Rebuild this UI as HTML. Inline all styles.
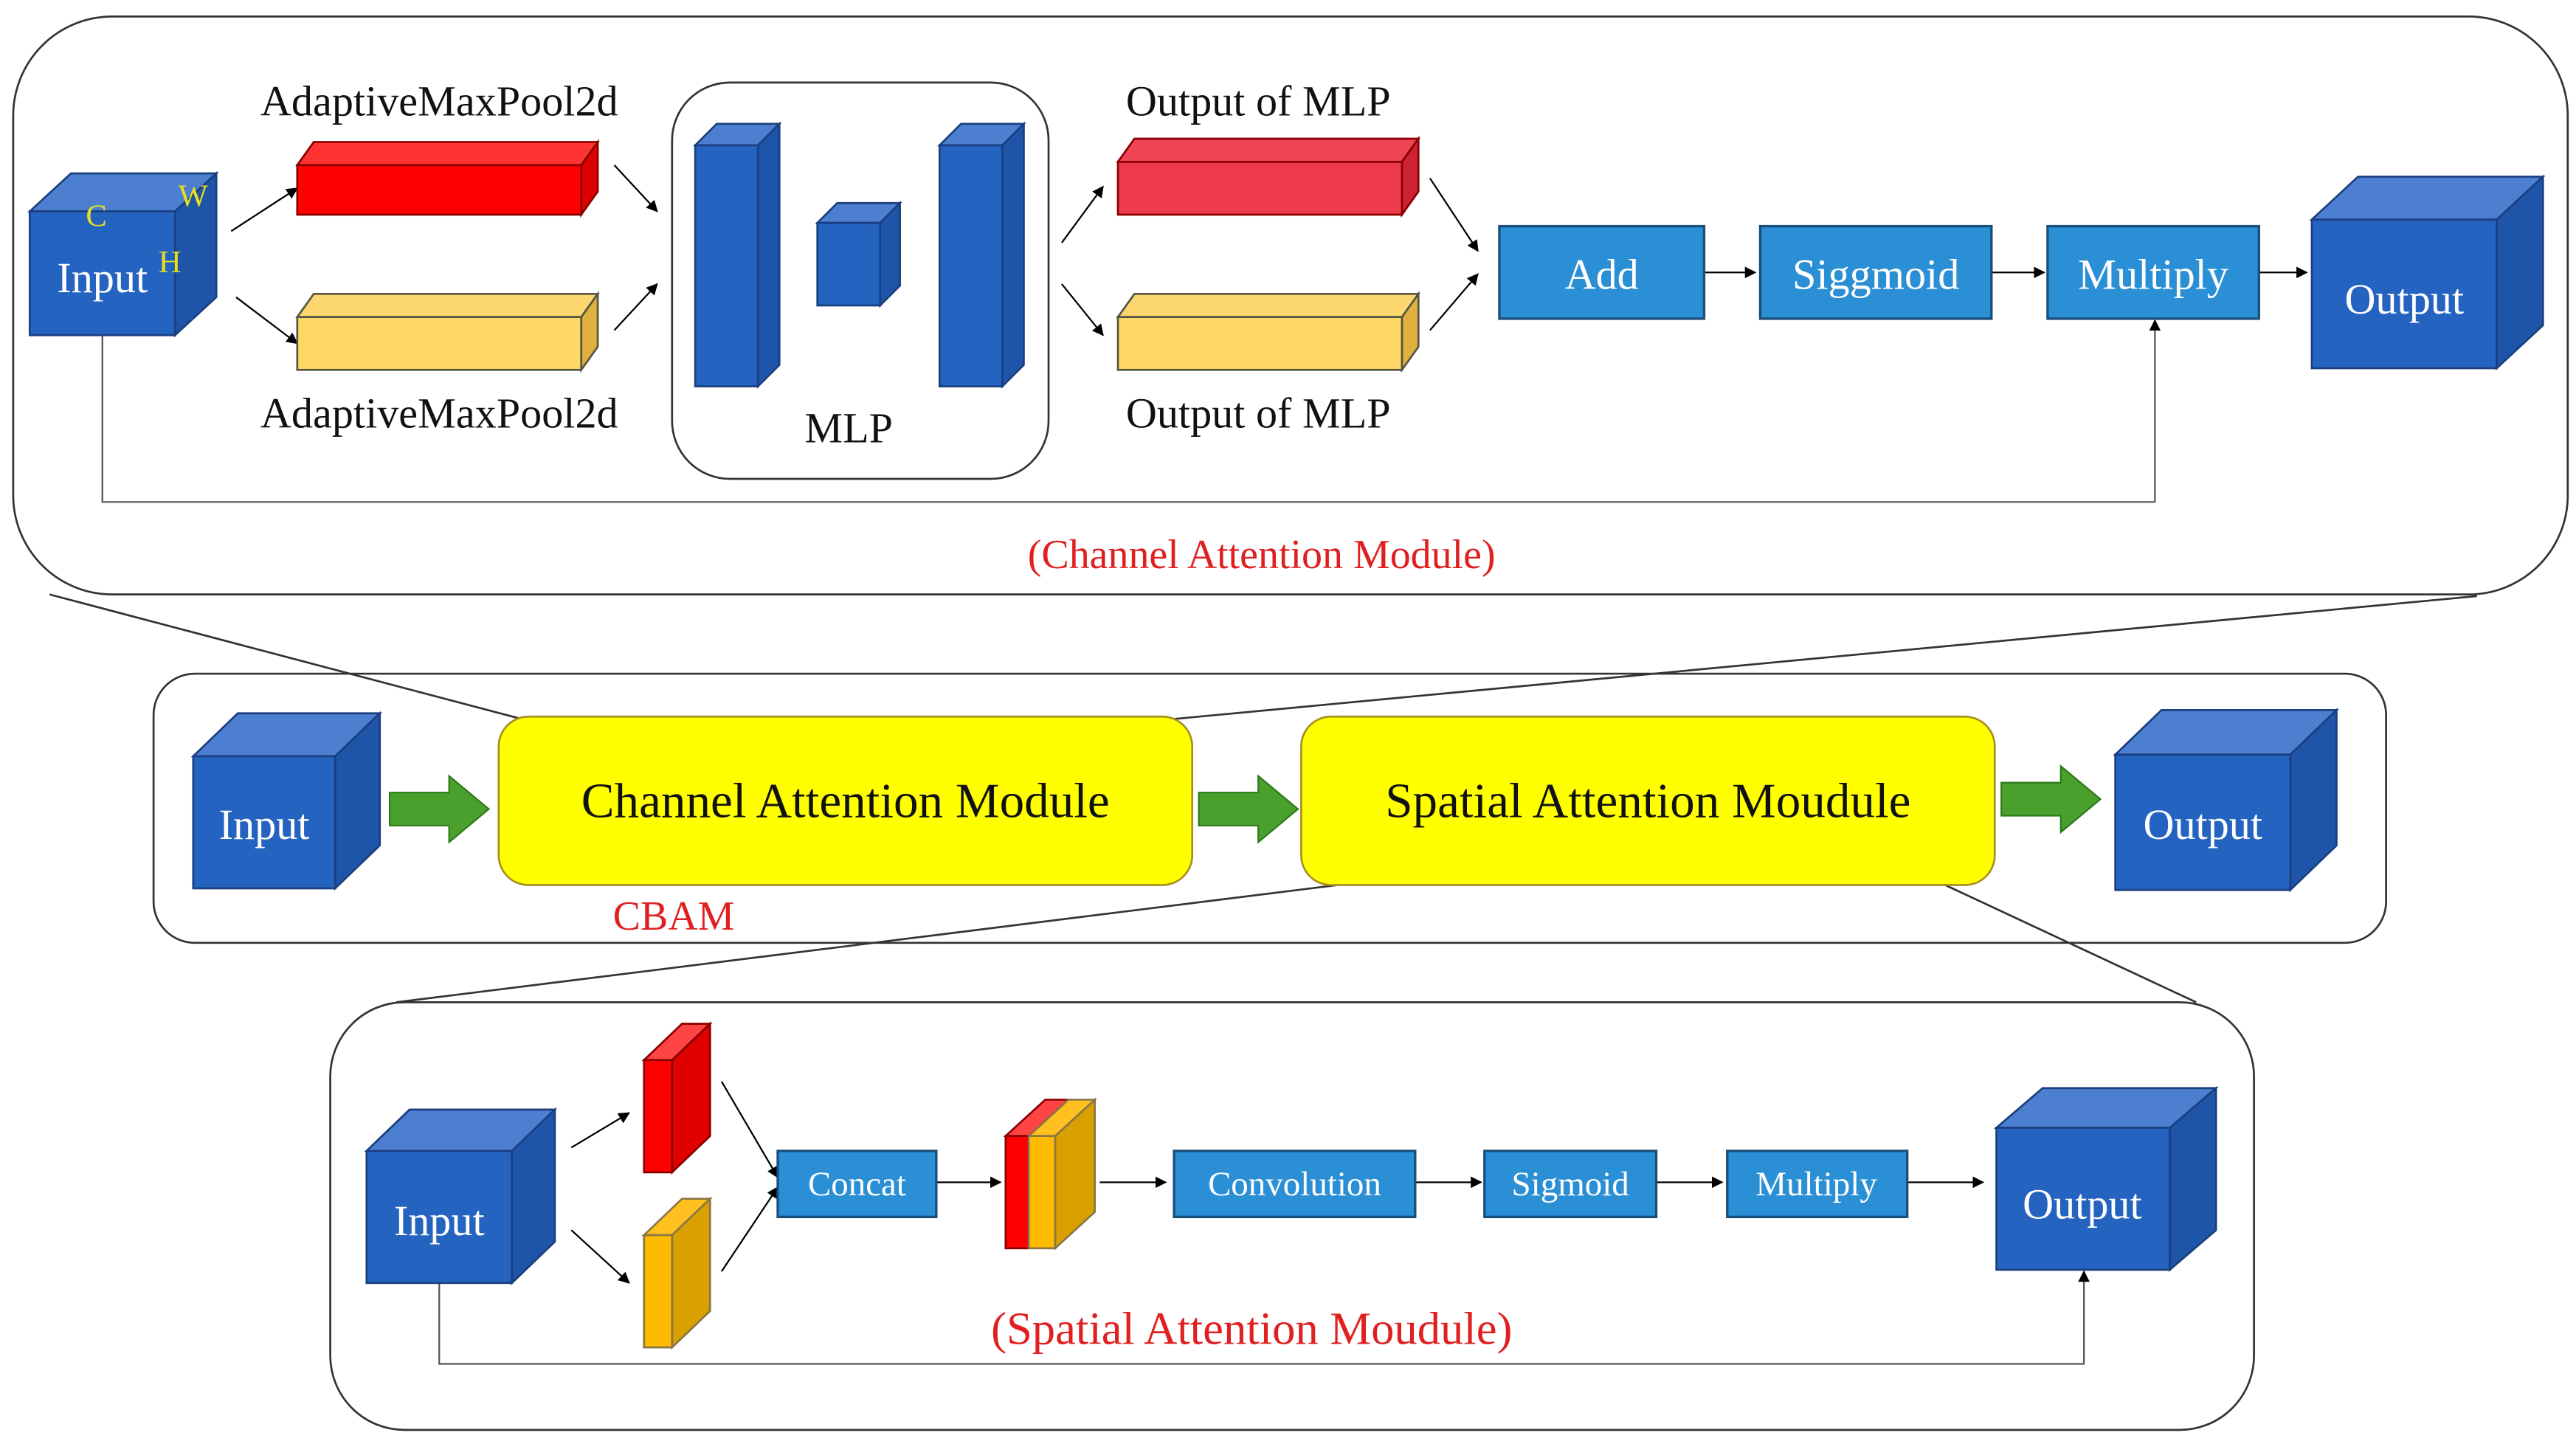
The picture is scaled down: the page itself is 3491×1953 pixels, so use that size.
<!DOCTYPE html>
<html><head><meta charset="utf-8"><style>html,body{margin:0;padding:0;background:#fff}svg{display:block}</style></head>
<body>
<svg width="3491" height="1953" viewBox="0 0 1560 872.7" preserveAspectRatio="none" xmlns="http://www.w3.org/2000/svg" font-family="Liberation Serif, serif">
<defs>
<marker id="a" viewBox="0 0 10 10" refX="9" refY="5" markerWidth="7" markerHeight="7" orient="auto-start-reverse" markerUnits="userSpaceOnUse"><path d="M0,0L10,5L0,10z" fill="#000"/></marker>
</defs>
<g fill="none" stroke="#333" stroke-width="1.2">
<rect x="8" y="10" width="1547" height="350" rx="60"/>
<rect x="407" y="50" width="228" height="240" rx="35"/>
<rect x="93" y="408" width="1352" height="163" rx="25"/>
<rect x="200" y="607" width="1165" height="259" rx="45"/>
<line x1="30" y1="360" x2="318" y2="436"/>
<line x1="1500" y1="361" x2="705" y2="436"/>
<line x1="810" y1="536" x2="240" y2="607"/>
<line x1="1178" y1="536" x2="1330" y2="607"/>
</g>
<g stroke="#000" stroke-width="1" fill="none" marker-end="url(#a)">
<line x1="140" y1="140" x2="180" y2="114"/><line x1="143" y1="180" x2="180" y2="208"/>
<line x1="372" y1="100" x2="398" y2="128"/><line x1="372" y1="200" x2="398" y2="172"/>
<line x1="643" y1="147" x2="668" y2="113"/><line x1="643" y1="172" x2="668" y2="203"/>
<line x1="866" y1="108" x2="895" y2="152"/><line x1="866" y1="200" x2="895" y2="166"/>
<line x1="1032" y1="165" x2="1063" y2="165"/><line x1="1206" y1="165" x2="1238" y2="165"/><line x1="1368" y1="165" x2="1397" y2="165"/>
<polyline points="62,203 62,304 1305,304 1305,194" stroke="#555"/>
<line x1="346" y1="695" x2="381" y2="674"/><line x1="346" y1="745" x2="381" y2="777"/>
<line x1="437" y1="655" x2="471" y2="713"/><line x1="437" y1="770" x2="471" y2="719"/>
<line x1="567" y1="716" x2="606" y2="716"/><line x1="666" y1="716" x2="706" y2="716"/>
<line x1="857" y1="716" x2="897" y2="716"/><line x1="1003" y1="716" x2="1043" y2="716"/><line x1="1155" y1="716" x2="1201" y2="716"/>
<polyline points="266,777 266,826 1262,826 1262,770" stroke="#555"/>
</g>
<g stroke="#1a3f80" stroke-width="1.2">
<polygon points="18,128 43,105 131,105 106,128" fill="#4d7fd0"/><polygon points="106,128 131,105 131,180 106,203" fill="#1f55a8"/><rect x="18" y="128" width="88" height="75" fill="#2563c0"/>
<polygon points="421,88 434,75 472,75 459,88" fill="#4d7fd0"/><polygon points="459,88 472,75 472,221 459,234" fill="#1f55a8"/><rect x="421" y="88" width="38" height="146" fill="#2563c0"/>
<polygon points="495,135 507,123 545,123 533,135" fill="#4d7fd0"/><polygon points="533,135 545,123 545,173 533,185" fill="#1f55a8"/><rect x="495" y="135" width="38" height="50" fill="#2563c0"/>
<polygon points="569,88 582,75 620,75 607,88" fill="#4d7fd0"/><polygon points="607,88 620,75 620,221 607,234" fill="#1f55a8"/><rect x="569" y="88" width="38" height="146" fill="#2563c0"/>
<polygon points="1400,133 1428,107 1540,107 1512,133" fill="#4d7fd0"/><polygon points="1512,133 1540,107 1540,197 1512,223" fill="#1f55a8"/><rect x="1400" y="133" width="112" height="90" fill="#2563c0"/>
<polygon points="117,458 144,432 230,432 203,458" fill="#4d7fd0"/><polygon points="203,458 230,432 230,512 203,538" fill="#1f55a8"/><rect x="117" y="458" width="86" height="80" fill="#2563c0"/>
<polygon points="1281,457 1309,430 1415,430 1387,457" fill="#4d7fd0"/><polygon points="1387,457 1415,430 1415,512 1387,539" fill="#1f55a8"/><rect x="1281" y="457" width="106" height="82" fill="#2563c0"/>
<polygon points="222,697 248,672 336,672 310,697" fill="#4d7fd0"/><polygon points="310,697 336,672 336,752 310,777" fill="#1f55a8"/><rect x="222" y="697" width="88" height="80" fill="#2563c0"/>
<polygon points="1209,683 1237,659 1342,659 1314,683" fill="#4d7fd0"/><polygon points="1314,683 1342,659 1342,745 1314,769" fill="#1f55a8"/><rect x="1209" y="683" width="105" height="86" fill="#2563c0"/>
</g>
<g stroke-width="1.2">
<polygon points="180,100 190,86 362,86 352,100" fill="#ff3333" stroke="#800"/><polygon points="352,100 362,86 362,116 352,130" fill="#dd0000" stroke="#800"/><rect x="180" y="100" width="172" height="30" fill="#ff0000" stroke="#800"/>
<polygon points="180,192 190,178 362,178 352,192" fill="#fcd770" stroke="#554"/><polygon points="352,192 362,178 362,210 352,224" fill="#e0b040" stroke="#554"/><rect x="180" y="192" width="172" height="32" fill="#fdd865" stroke="#554"/>
<polygon points="677,98 687,84 859,84 849,98" fill="#ee4455" stroke="#800"/><polygon points="849,98 859,84 859,116 849,130" fill="#cc2233" stroke="#800"/><rect x="677" y="98" width="172" height="32" fill="#ee3a4a" stroke="#800"/>
<polygon points="677,192 687,178 859,178 849,192" fill="#fcd770" stroke="#554"/><polygon points="849,192 859,178 859,210 849,224" fill="#e0b040" stroke="#554"/><rect x="677" y="192" width="172" height="32" fill="#fdd865" stroke="#554"/>
<polygon points="390,642 413,620 430,620 407,642" fill="#ff4444" stroke="#800"/><polygon points="407,642 430,620 430,688 407,710" fill="#e00000" stroke="#800"/><rect x="390" y="642" width="17" height="68" fill="#ff0000" stroke="#800"/>
<polygon points="390,748 413,726 430,726 407,748" fill="#ffc020" stroke="#874"/><polygon points="407,748 430,726 430,794 407,816" fill="#d9a000" stroke="#874"/><rect x="390" y="748" width="17" height="68" fill="#ffbb00" stroke="#874"/>
<polygon points="609,688 633,666 647,666 623,688" fill="#ff4444" stroke="#800"/><polygon points="623,688 647,666 663,666 639,688" fill="#ffc020" stroke="#874"/>
<polygon points="639,688 663,666 663,734 639,756" fill="#d9a000" stroke="#874"/>
<rect x="609" y="688" width="14" height="68" fill="#ff0000" stroke="#800"/><rect x="623" y="688" width="16" height="68" fill="#ffbb00" stroke="#874"/>
</g>
<g fill="#2b8fd6" stroke="#1a4f7a" stroke-width="1.5">
<rect x="908" y="137" width="124" height="56"/><rect x="1066" y="137" width="140" height="56"/><rect x="1240" y="137" width="128" height="56"/>
<rect x="471" y="697" width="96" height="40"/><rect x="711" y="697" width="146" height="40"/><rect x="899" y="697" width="104" height="40"/><rect x="1046" y="697" width="109" height="40"/>
</g>
<rect x="302" y="434" width="420" height="102" rx="18" fill="#ffff00" stroke="#a89020" stroke-width="1.2"/>
<rect x="788" y="434" width="420" height="102" rx="18" fill="#ffff00" stroke="#a89020" stroke-width="1.2"/>
<g fill="#4aa02c" stroke="#2e7a1a" stroke-width="1">
<polygon points="236,480 272,480 272,470 296,490 272,510 272,500 236,500"/>
<polygon points="726,480 762,480 762,470 786,490 762,510 762,500 726,500"/>
<polygon points="1212,474 1248,474 1248,464 1272,484 1248,504 1248,494 1212,494"/>
</g>
<g text-anchor="middle" fill="#111" font-size="26">
<text x="266" y="70">AdaptiveMaxPool2d</text><text x="266" y="259">AdaptiveMaxPool2d</text>
<text x="514" y="268">MLP</text>
<text x="762" y="70">Output of MLP</text><text x="762" y="259">Output of MLP</text>
<text x="512" y="495" font-size="30">Channel Attention Module</text>
<text x="998" y="495" font-size="30">Spatial Attention Moudule</text>
</g>
<g text-anchor="middle" fill="#e02020">
<text x="764" y="344" font-size="25">(Channel Attention Module)</text>
<text x="408" y="563" font-size="25">CBAM</text>
<text x="758" y="814" font-size="28">(Spatial Attention Moudule)</text>
</g>
<g text-anchor="middle" fill="#fff" font-size="26">
<text x="62" y="177">Input</text>
<text x="970" y="175">Add</text><text x="1136" y="175">Siggmoid</text><text x="1304" y="175">Multiply</text>
<text x="1456" y="190">Output</text>
<text x="160" y="508">Input</text><text x="1334" y="508">Output</text>
<text x="266" y="748">Input</text><text x="1261" y="738">Output</text>
<text x="519" y="724" font-size="21">Concat</text><text x="784" y="724" font-size="21">Convolution</text>
<text x="951" y="724" font-size="21">Sigmoid</text><text x="1100" y="724" font-size="21">Multiply</text>
</g>
<g fill="#e8e020" font-size="19">
<text x="52" y="137">C</text><text x="108" y="125">W</text><text x="96" y="165">H</text>
</g>
</svg>
</body></html>
